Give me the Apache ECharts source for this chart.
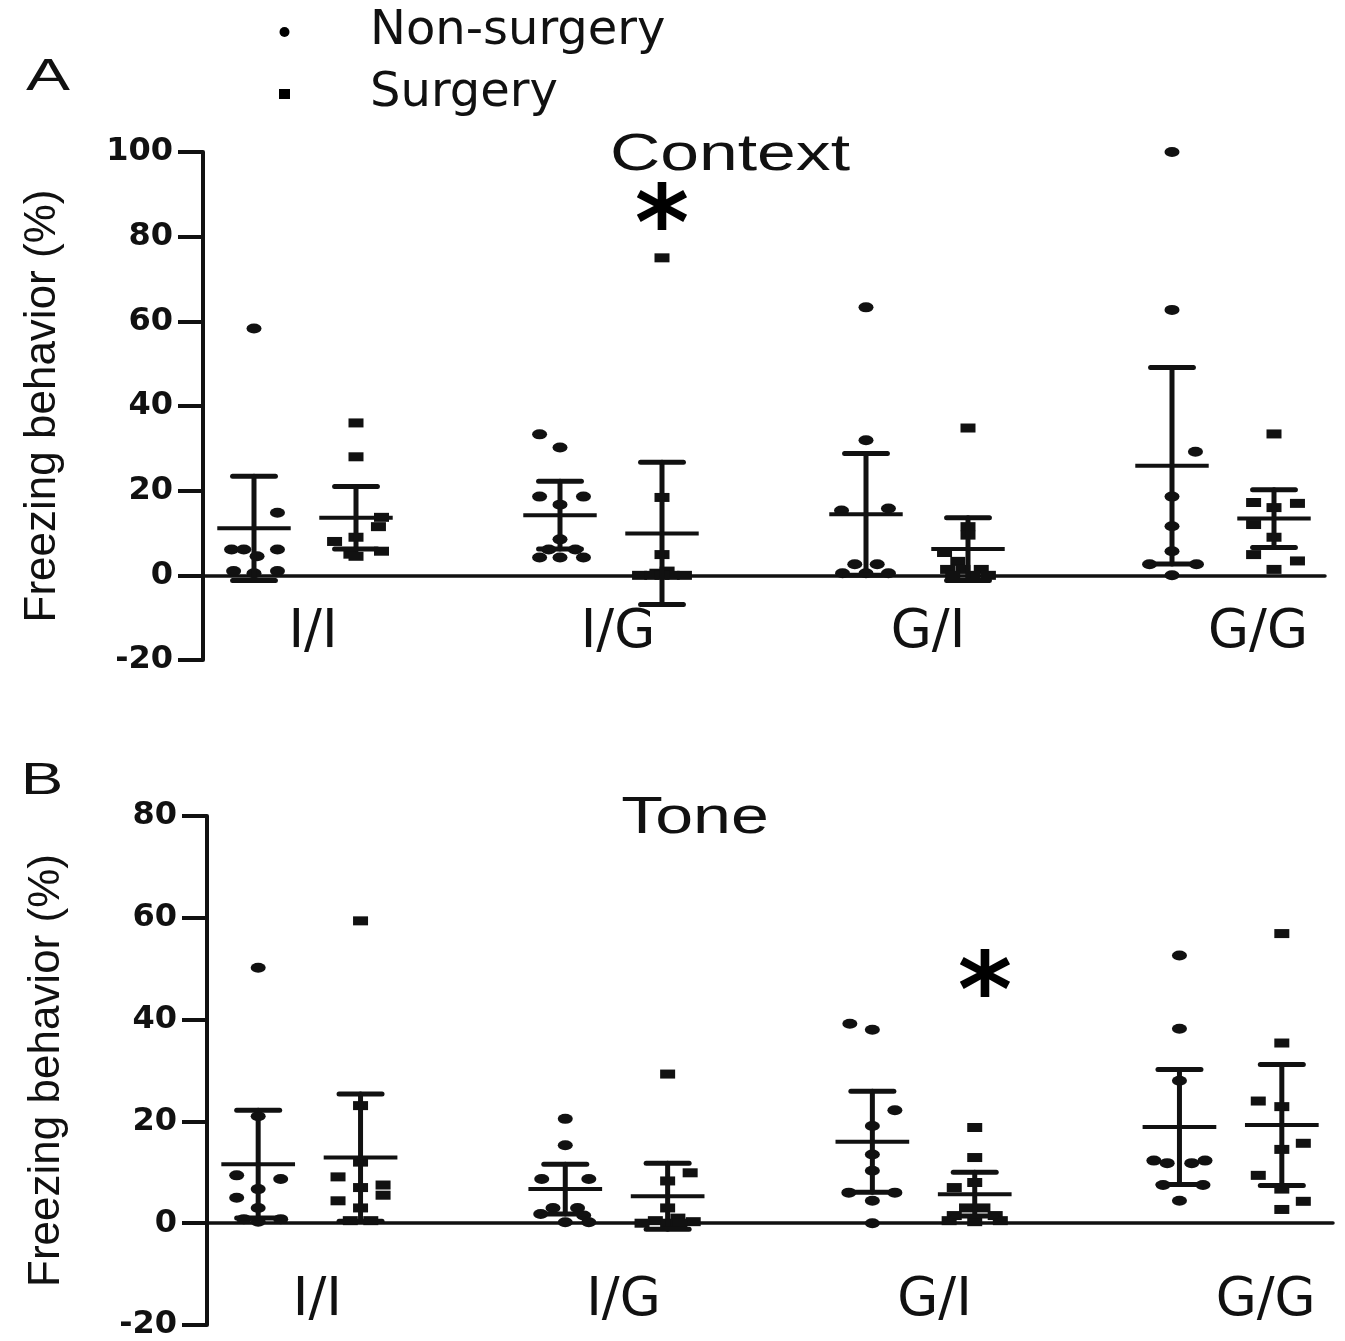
<!DOCTYPE html>
<html>
<head>
<meta charset="utf-8">
<script src="https://cdn.jsdelivr.net/npm/echarts@6/dist/echarts.min.js"></script>
<style>
html,body{margin:0;padding:0;background:#fff;}
#chart{width:1345px;height:1341px;}
</style>
</head>
<body>
<div id="chart"></div>
<script>
// ---------- data ----------
const categories = ['I/I', 'I/G', 'G/I', 'G/G'];
const seriesNames = ['Non-surgery', 'Surgery'];
const yAxisTitle = 'Freezing behavior (%)';
const contextTitle = 'Context';
const toneTitle = 'Tone';
const contextYMin = -20, contextYMax = 100, yStep = 20;
const toneYMin = -20, toneYMax = 80;

// Panel A: Context — individual values per category
const contextNonSurgery = [
  [58.3, 14.8, 6.1, 6.1, 6.1, 4.5, 1, 1, 0.5],
  [33.3, 30.2, 18.6, 18.6, 16.7, 8.5, 6.1, 6.1, 4.2, 4.2, 4.2],
  [63.3, 31.9, 15.3, 15.8, 2.6, 2.6, 0.5, 0.5, 0.5],
  [100, 62.7, 29.2, 18.6, 11.6, 5.7, 2.6, 2.6, 0]
];
const contextNonSurgeryJitter = [
  [0, 0.23, -0.22, -0.1, 0.23, 0.03, -0.2, 0.23, 0],
  [-0.2, 0, -0.2, 0.23, 0, 0, -0.11, 0.15, -0.2, 0, 0.23],
  [0, 0, -0.24, 0.22, -0.11, 0.11, -0.23, 0, 0.22],
  [0, 0, 0.23, 0, 0, 0, -0.22, 0.24, 0]
];
const contextSurgery = [
  [36, 28, 13.7, 11.5, 9, 8, 5.7, 5, 4.5],
  [75, 18.4, 4.9, 1, 0.5, 0, 0, 0, 0, 0],
  [34.8, 11.5, 9.5, 5.4, 3.3, 1.4, 1.4, 1.4, 0, 0, 0],
  [33.4, 17.2, 17, 16, 12, 9, 4.9, 3.4, 1.4]
];
const contextSurgeryJitter = [
  [0, 0, 0.25, 0.22, 0, -0.21, 0.25, -0.05, 0],
  [0, 0, 0, 0.05, -0.05, -0.22, -0.1, 0.1, 0.22, 0],
  [0, 0, 0, -0.23, -0.1, -0.2, -0.05, 0.13, -0.15, 0.05, 0.2],
  [0, -0.2, 0.23, 0, -0.2, 0, -0.2, 0.23, 0]
];
const contextNonSurgeryMean = [11.1, 14.2, 14.4, 25.9];
const contextNonSurgerySD = [12.3, 8.0, 14.4, 23.2];
const contextSurgeryMean = [13.6, 9.9, 6.2, 13.4];
const contextSurgerySD = [7.4, 16.8, 7.4, 6.8];

// Panel B: Tone
const toneNonSurgery = [
  [50.2, 21, 9.4, 8.7, 6.7, 5, 3, 0.8, 0.8, 0.3],
  [20.5, 15.3, 8.7, 8.7, 3, 3, 1.8, 1.5, 0.2, 0.2],
  [39.2, 38, 22.2, 19.1, 13.5, 10.3, 6, 6, 4.4, 0],
  [52.6, 38.2, 28, 12.3, 11.8, 11.8, 12.3, 7.5, 7.5, 4.4]
];
const toneNonSurgeryJitter = [
  [0, 0, -0.21, 0.22, 0, -0.21, 0, -0.14, 0.22, 0],
  [0, 0, -0.23, 0.23, -0.12, 0.12, -0.24, 0.18, 0, 0.23],
  [-0.22, 0, 0.22, 0, 0, 0, -0.23, 0.22, 0, 0],
  [0, 0, 0, -0.25, -0.12, 0.12, 0.25, -0.16, 0.23, 0]
];
const toneSurgery = [
  [59.4, 23.1, 12, 9.1, 7.5, 5.5, 7, 4.4, 3, 0.5, 0.5],
  [29.3, 9.9, 8.3, 3, 1, 0.5, 0.3, 0, 0, 0],
  [18.8, 12.9, 8, 7, 3, 3, 1.5, 1.5, 0.5, 0.5, 0.3],
  [56.9, 35.4, 24, 22.9, 15.7, 14.5, 9.4, 6.7, 4.3, 2.7]
];
const toneSurgeryJitter = [
  [0, 0, 0, -0.22, 0.22, 0.22, 0, -0.22, 0, -0.1, 0.1],
  [0, 0.22, 0, 0, 0.1, -0.12, 0.25, -0.25, 0, 0.12],
  [0, 0, 0, -0.2, -0.08, 0.08, -0.2, 0.2, -0.25, 0.25, 0],
  [0, 0, -0.23, 0, 0.21, 0, -0.23, 0, 0.21, 0]
];
const toneNonSurgeryMean = [11.6, 6.7, 16.0, 18.9];
const toneNonSurgerySD = [10.6, 4.9, 9.9, 11.3];
const toneSurgeryMean = [12.9, 5.3, 5.7, 19.3];
const toneSurgerySD = [12.5, 6.5, 4.3, 11.9];

// significance markers: [group slot, height]
const contextSignificance = [[4, 81]];
const toneSignificance = [[7.1, 44]];

// ---------- helpers ----------
const INK = '#111';
const GROUP_STEP = 3; // slots per category: non-surgery, surgery, gap
function slot(catIndex, isSurgery) { return catIndex * GROUP_STEP + (isSurgery ? 1 : 0); }

function pointsFrom(values, jitter, isSurgery) {
  const out = [];
  values.forEach((arr, i) => arr.forEach((v, j) => out.push([slot(i, isSurgery) + jitter[i][j], v])));
  return out;
}
function summaryFrom(means, sds, isSurgery) {
  return means.map((m, i) => [slot(i, isSurgery), m, sds[i]]);
}

function renderBar(params, api) {
  const x = api.value(0), m = api.value(1), s = api.value(2);
  const c = api.coord([x, m]);
  const t = api.coord([x, m + s]);
  const b = api.coord([x, m - s]);
  const meanHalf = api.size([0.36, 0])[0];
  const capHalf = api.size([0.21, 0])[0];
  const st = { stroke: INK, lineCap: 'round' };
  return {
    type: 'group',
    children: [
      { type: 'line', shape: { x1: c[0], y1: t[1], x2: c[0], y2: b[1] }, style: Object.assign({ lineWidth: 5 }, st) },
      { type: 'line', shape: { x1: c[0] - capHalf, y1: t[1], x2: c[0] + capHalf, y2: t[1] }, style: Object.assign({ lineWidth: 5 }, st) },
      { type: 'line', shape: { x1: c[0] - capHalf, y1: b[1], x2: c[0] + capHalf, y2: b[1] }, style: Object.assign({ lineWidth: 5 }, st) },
      { type: 'line', shape: { x1: c[0] - meanHalf, y1: c[1], x2: c[0] + meanHalf, y2: c[1] }, style: { stroke: INK, lineWidth: 4 } }
    ]
  };
}

const labelOffsets = { 'I/I': 16, 'I/G': 14, 'G/I': 22, 'G/G': 70 };
function xLabel(v) {
  const k = Math.round((v - 0.5) * 10);
  if (k % (GROUP_STEP * 10) !== 0) return '';
  const idx = k / (GROUP_STEP * 10);
  const name = categories[idx];
  if (!name) return '';
  return '{c' + idx + '|' + name + '}';
}
function richFor(size) {
  const r = {};
  categories.forEach((c, i) => {
    r['c' + i] = { fontFamily: 'DejaVu Sans', fontSize: size, color: INK, padding: [0, 0, 0, labelOffsets[c]] };
  });
  return r;
}

function xAxisFor(gridIndex, margin) {
  return {
    type: 'value', gridIndex: gridIndex, min: -0.5, max: 10.5, interval: 1,
    axisLine: { onZero: true, lineStyle: { color: INK, width: 3.5 } },
    axisTick: { show: false },
    splitLine: { show: false },
    axisLabel: { formatter: xLabel, margin: margin, rich: richFor(53), showMinLabel: false, showMaxLabel: false }
  };
}
function yAxisFor(gridIndex, min, max) {
  return {
    type: 'value', gridIndex: gridIndex, min: min, max: max, interval: yStep,
    name: yAxisTitle, nameLocation: 'middle', nameGap: 138,
    nameTextStyle: { fontFamily: 'Liberation Sans', fontSize: 44, color: INK },
    axisLine: { show: true, onZero: false, lineStyle: { color: INK, width: 4 } },
    axisTick: { show: true, length: 25, lineStyle: { color: INK, width: 4 } },
    splitLine: { show: false },
    axisLabel: { fontFamily: 'DejaVu Sans', fontWeight: 'bold', fontSize: 32, color: INK, margin: 30 }
  };
}

function panelSeries(idx, nonVals, nonJit, surVals, surJit, nonMean, nonSD, surMean, surSD, sig) {
  return [
    { name: seriesNames[0], type: 'scatter', xAxisIndex: idx, yAxisIndex: idx, symbol: 'circle', symbolSize: [15, 10],
      itemStyle: { color: INK, opacity: 1 }, data: pointsFrom(nonVals, nonJit, false), z: 3 },
    { name: seriesNames[1], type: 'scatter', xAxisIndex: idx, yAxisIndex: idx, symbol: 'rect', symbolSize: [15, 9],
      itemStyle: { color: INK, opacity: 1 }, data: pointsFrom(surVals, surJit, true), z: 3 },
    { name: 'summary', type: 'custom', xAxisIndex: idx, yAxisIndex: idx, renderItem: renderBar,
      data: summaryFrom(nonMean, nonSD, false).concat(summaryFrom(surMean, surSD, true)), z: 4, silent: true },
    { name: 'significance', type: 'scatter', xAxisIndex: idx, yAxisIndex: idx, symbol: 'circle', symbolSize: 1, silent: true,
      itemStyle: { color: '#ffffff', opacity: 1 },
      data: sig, label: { show: true, position: 'inside', formatter: '*', fontFamily: 'DejaVu Sans', fontWeight: 'bold', fontSize: 104, color: '#000', opacity: 1, textBorderWidth: 0 } }
  ];
}

const chart = echarts.init(document.getElementById('chart'), null, { renderer: 'canvas' });
chart.setOption({
  backgroundColor: '#fff',
  animation: false,
  legend: {
    data: [
      { name: seriesNames[0], icon: 'circle', itemStyle: { color: '#000' } },
      { name: seriesNames[1], icon: 'rect', itemStyle: { color: '#000' } }
    ],
    orient: 'vertical', left: 274, top: 2, itemWidth: 11, itemHeight: 10, itemGap: 12,
    textStyle: { fontFamily: 'DejaVu Sans', fontSize: 48, color: INK, lineHeight: 50, padding: [0, 0, 0, 75] },
    selectedMode: false
  },
  grid: [
    { left: 203, top: 152, width: 1122, height: 508, containLabel: false, outerBoundsMode: 'none' },
    { left: 207, top: 816, width: 1126, height: 509, containLabel: false, outerBoundsMode: 'none' }
  ],
  xAxis: [xAxisFor(0, -53), xAxisFor(1, -50)],
  yAxis: [yAxisFor(0, contextYMin, contextYMax), yAxisFor(1, toneYMin, toneYMax)],
  series: panelSeries(0, contextNonSurgery, contextNonSurgeryJitter, contextSurgery, contextSurgeryJitter,
      contextNonSurgeryMean, contextNonSurgerySD, contextSurgeryMean, contextSurgerySD, contextSignificance)
    .concat(panelSeries(1, toneNonSurgery, toneNonSurgeryJitter, toneSurgery, toneSurgeryJitter,
      toneNonSurgeryMean, toneNonSurgerySD, toneSurgeryMean, toneSurgerySD, toneSignificance)),
  graphic: [
    { type: 'text', x: 48, y: 78, scaleX: 1.5, style: { text: 'A', font: '44px "Liberation Sans"', fill: INK, textAlign: 'center', textVerticalAlign: 'middle', align: 'center', verticalAlign: 'middle' } },
    { type: 'text', x: 42, y: 782, scaleX: 1.45, style: { text: 'B', font: '44px "Liberation Sans"', fill: INK, textAlign: 'center', textVerticalAlign: 'middle', align: 'center', verticalAlign: 'middle' } },
    { type: 'text', x: 730, y: 156, scaleX: 1.34, style: { text: contextTitle, font: '52px "Liberation Sans"', fill: INK, textAlign: 'center', textVerticalAlign: 'middle', align: 'center', verticalAlign: 'middle' } },
    { type: 'text', x: 695, y: 819, scaleX: 1.31, style: { text: toneTitle, font: '52px "Liberation Sans"', fill: INK, textAlign: 'center', textVerticalAlign: 'middle', align: 'center', verticalAlign: 'middle' } }
  ]
});
</script>
</body>
</html>
